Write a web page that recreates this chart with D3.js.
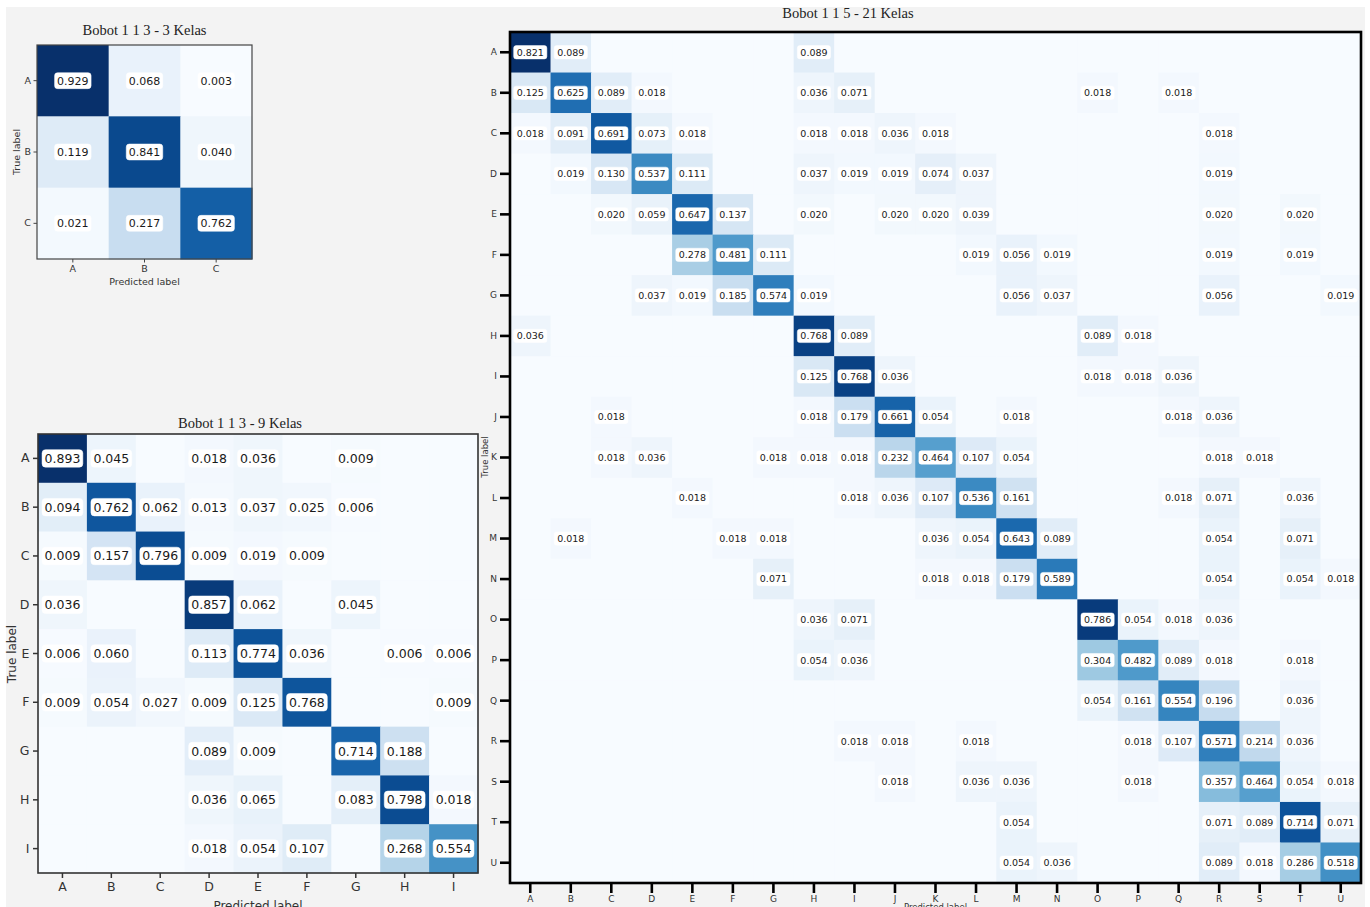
<!DOCTYPE html>
<html><head><meta charset="utf-8">
<script src="https://cdn.jsdelivr.net/npm/d3@7"></script>
<style>body{margin:0;background:#fff;} svg{display:block;}</style>
</head><body>
<svg id="chart" width="1370" height="907"></svg>
<script>
// ---------- DATA ----------
const classes3 = ["A","B","C"];
const values3 = [
  [0.929, 0.068, 0.003],
  [0.119, 0.841, 0.040],
  [0.021, 0.217, 0.762]
];
const title3 = "Bobot 1 1 3 - 3 Kelas";

const classes9 = ["A","B","C","D","E","F","G","H","I"];
const values9 = [
  [0.893,0.045,0,0.018,0.036,0,0.009,0,0],
  [0.094,0.762,0.062,0.013,0.037,0.025,0.006,0,0],
  [0.009,0.157,0.796,0.009,0.019,0.009,0,0,0],
  [0.036,0,0,0.857,0.062,0,0.045,0,0],
  [0.006,0.060,0,0.113,0.774,0.036,0,0.006,0.006],
  [0.009,0.054,0.027,0.009,0.125,0.768,0,0,0.009],
  [0,0,0,0.089,0.009,0,0.714,0.188,0],
  [0,0,0,0.036,0.065,0,0.083,0.798,0.018],
  [0,0,0,0.018,0.054,0.107,0,0.268,0.554]
];
const title9 = "Bobot 1 1 3 - 9 Kelas";

const classes21 = ["A","B","C","D","E","F","G","H","I","J","K","L","M","N","O","P","Q","R","S","T","U"];
const values21 = [
  [0.821,0.089,0,0,0,0,0,0.089,0,0,0,0,0,0,0,0,0,0,0,0,0],
  [0.125,0.625,0.089,0.018,0,0,0,0.036,0.071,0,0,0,0,0,0.018,0,0.018,0,0,0,0],
  [0.018,0.091,0.691,0.073,0.018,0,0,0.018,0.018,0.036,0.018,0,0,0,0,0,0,0.018,0,0,0],
  [0,0.019,0.130,0.537,0.111,0,0,0.037,0.019,0.019,0.074,0.037,0,0,0,0,0,0.019,0,0,0],
  [0,0,0.020,0.059,0.647,0.137,0,0.020,0,0.020,0.020,0.039,0,0,0,0,0,0.020,0,0.020,0],
  [0,0,0,0,0.278,0.481,0.111,0,0,0,0,0.019,0.056,0.019,0,0,0,0.019,0,0.019,0],
  [0,0,0,0.037,0.019,0.185,0.574,0.019,0,0,0,0,0.056,0.037,0,0,0,0.056,0,0,0.019],
  [0.036,0,0,0,0,0,0,0.768,0.089,0,0,0,0,0,0.089,0.018,0,0,0,0,0],
  [0,0,0,0,0,0,0,0.125,0.768,0.036,0,0,0,0,0.018,0.018,0.036,0,0,0,0],
  [0,0,0.018,0,0,0,0,0.018,0.179,0.661,0.054,0,0.018,0,0,0,0.018,0.036,0,0,0],
  [0,0,0.018,0.036,0,0,0.018,0.018,0.018,0.232,0.464,0.107,0.054,0,0,0,0,0.018,0.018,0,0],
  [0,0,0,0,0.018,0,0,0,0.018,0.036,0.107,0.536,0.161,0,0,0,0.018,0.071,0,0.036,0],
  [0,0.018,0,0,0,0.018,0.018,0,0,0,0.036,0.054,0.643,0.089,0,0,0,0.054,0,0.071,0],
  [0,0,0,0,0,0,0.071,0,0,0,0.018,0.018,0.179,0.589,0,0,0,0.054,0,0.054,0.018],
  [0,0,0,0,0,0,0,0.036,0.071,0,0,0,0,0,0.786,0.054,0.018,0.036,0,0,0],
  [0,0,0,0,0,0,0,0.054,0.036,0,0,0,0,0,0.304,0.482,0.089,0.018,0,0.018,0],
  [0,0,0,0,0,0,0,0,0,0,0,0,0,0,0.054,0.161,0.554,0.196,0,0.036,0],
  [0,0,0,0,0,0,0,0,0.018,0.018,0,0.018,0,0,0,0.018,0.107,0.571,0.214,0.036,0],
  [0,0,0,0,0,0,0,0,0,0.018,0,0.036,0.036,0,0,0.018,0,0.357,0.464,0.054,0.018],
  [0,0,0,0,0,0,0,0,0,0,0,0,0.054,0,0,0,0,0.071,0.089,0.714,0.071],
  [0,0,0,0,0,0,0,0,0,0,0,0,0.054,0.036,0,0,0,0.089,0.018,0.286,0.518]
];
const title21 = "Bobot 1 1 5 - 21 Kelas";

const xAxisTitle = "Predicted label";
const yAxisTitle = "True label";

// ---------- DRAW ----------
const svg = d3.select("#chart");
svg.append("rect").attr("x",6).attr("y",7).attr("width",1359).attr("height",900).attr("fill","#f3f3f3");

const sans = "'DejaVu Sans', sans-serif";
const serif = "'Liberation Serif', 'Times New Roman', serif";

function drawCM(o){
  const g = svg.append("g");
  const x = d3.scaleBand().domain(o.classes).range([o.x0, o.x0 + o.w]);
  const y = d3.scaleBand().domain(o.classes).range([o.y0, o.y0 + o.h]);
  const flat = o.values.flat();
  const color = d3.scaleSequential(d3.interpolateBlues).domain([d3.min(flat), d3.max(flat)]);
  const cells = [];
  o.values.forEach((row,i)=>row.forEach((v,j)=>cells.push({r:o.classes[i], c:o.classes[j], v})));

  g.selectAll("rect.cell").data(cells).join("rect").attr("class","cell")
    .attr("x",d=>x(d.c)).attr("y",d=>y(d.r))
    .attr("width",x.bandwidth()+0.5).attr("height",y.bandwidth()+0.5)
    .attr("fill",d=>color(d.v));

  // labels
  const lab = g.selectAll("g.lab").data(cells.filter(d=>d.v>0)).join("g").attr("class","lab")
    .attr("transform",d=>`translate(${x(d.c)+x.bandwidth()/2},${y(d.r)+y.bandwidth()/2})`);
  lab.append("rect");
  lab.append("text").attr("text-anchor","middle").attr("dy","0.36em")
    .attr("font-family",sans).attr("font-size",o.fs).attr("fill","#1a1a1a")
    .text(d=>d3.format(".3f")(d.v));
  lab.each(function(){
    const t = d3.select(this).select("text").node().getBBox();
    const bw = t.width + 2*o.padX, bh = o.fs*o.boxH;
    d3.select(this).select("rect").attr("x",-bw/2).attr("y",-bh/2).attr("width",bw).attr("height",bh)
      .attr("rx",o.rx).attr("fill","#fff").attr("stroke","#fff").attr("stroke-width",0.5);
  });

  // border
  g.append("rect").attr("x",o.x0).attr("y",o.y0).attr("width",o.w).attr("height",o.h)
    .attr("fill","none").attr("stroke",o.borderColor).attr("stroke-width",o.bw);

  // axes
  const ax = g.append("g").attr("transform",`translate(0,${o.y0+o.h})`)
    .call(d3.axisBottom(x).tickSize(o.tl).tickPadding(o.tpx));
  const ay = g.append("g").attr("transform",`translate(${o.x0},0)`)
    .call(d3.axisLeft(y).tickSize(o.tl).tickPadding(o.tp));
  [ax,ay].forEach(a=>{
    a.select(".domain").remove();
    a.selectAll("line").attr("stroke",o.tickColor).attr("stroke-width",o.tw);
    a.selectAll("text").attr("font-family",sans).attr("font-size",o.tfs).attr("fill","#333");
  });

  // titles
  svg.append("text").attr("x",o.titleX).attr("y",o.titleY).attr("text-anchor","middle")
    .attr("font-family",serif).attr("font-size",o.titleFs).attr("fill","#222").text(o.title);
  svg.append("text").attr("x",o.x0+o.w/2+(o.plDx||0)).attr("y",o.plY).attr("text-anchor","middle")
    .attr("font-family",sans).attr("font-size",o.afs).attr("fill","#333").text(xAxisTitle);
  svg.append("text").attr("transform",`translate(${o.tlX},${o.tlY}) rotate(-90)`).attr("text-anchor","middle")
    .attr("font-family",sans).attr("font-size",o.afs).attr("fill","#333").text(yAxisTitle);
}

drawCM({classes:classes3, values:values3, title:title3,
  x0:37, y0:45, w:215, h:214, fs:11, padX:2.5, boxH:1.45, rx:3,
  bw:1.2, borderColor:"#444", tl:3.5, tw:1, tp:2.5, tpx:3, tickColor:"#444", tfs:9.5,
  titleX:144.5, titleY:35, titleFs:14.5, plY:285, afs:9.5, tlX:20, tlY:152});

drawCM({classes:classes9, values:values9, title:title9,
  x0:38, y0:434, w:440, h:439, fs:12.5, padX:2.5, boxH:1.4, rx:3.5,
  bw:1.6, borderColor:"#333", tl:5, tw:1.5, tp:3.5, tpx:4, tickColor:"#333", tfs:12.5,
  titleX:240, titleY:428, titleFs:14.5, plY:910, afs:12, tlX:16, tlY:654});

drawCM({classes:classes21, values:values21, title:title21,
  x0:510, y0:32, w:851, h:851, fs:9.5, padX:3, boxH:1.4, rx:2.5,
  bw:2.6, borderColor:"#000", tl:10, tw:2.6, tp:3, tpx:3, tickColor:"#000", tfs:9,
  titleX:848, titleY:18, titleFs:14.5, plY:910, afs:8.5, plDx:0, tlX:488, tlY:457});
</script>
</body></html>
